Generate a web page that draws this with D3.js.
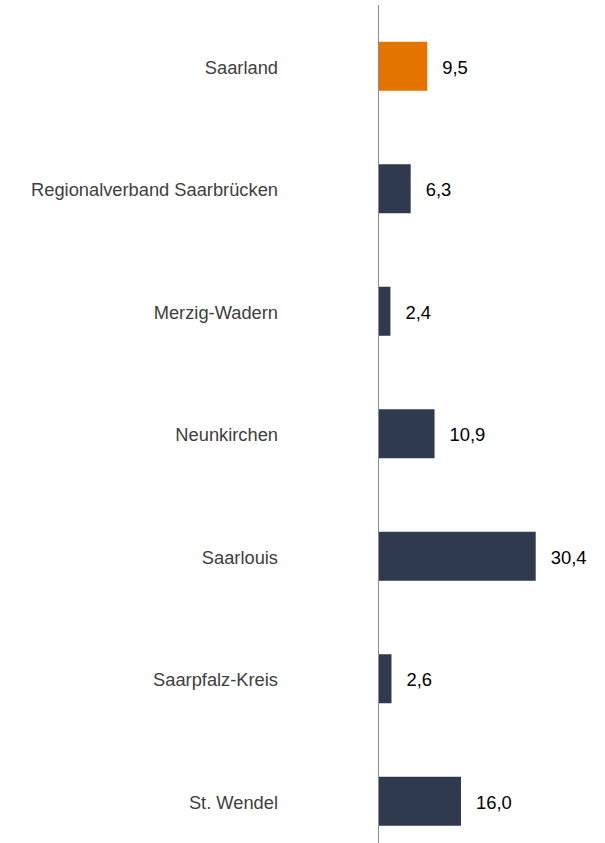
<!DOCTYPE html>
<html>
<head>
<meta charset="utf-8">
<script src="https://cdn.jsdelivr.net/npm/d3@7"></script>
<style>
  html, body { margin: 0; padding: 0; background: #fff; }
  svg { display: block; }
</style>
</head>
<body>
<div id="chart"></div>
<script>
// Daten
const categories = ["Saarland", "Regionalverband Saarbrücken", "Merzig-Wadern", "Neunkirchen", "Saarlouis", "Saarpfalz-Kreis", "St. Wendel"];
const values = [9.5, 6.3, 2.4, 10.9, 30.4, 2.6, 16.0];
const highlight = ["Saarland"];

const width = 605, height = 843;
const axisX = 378;
const font = "'Liberation Sans', Arial, sans-serif";

const svg = d3.select("#chart").append("svg")
  .attr("width", width)
  .attr("height", height);

const x = d3.scaleLinear()
  .domain([0, 30.4])
  .range([axisX, axisX + 157.7]);

const y = d3.scaleBand()
  .domain(categories)
  .range([5, 862.5])
  .paddingInner(0.6)
  .paddingOuter(0.3);

const data = categories.map((c, i) => ({ name: c, value: values[i] }));

// Balken
svg.selectAll("rect.bar")
  .data(data)
  .join("rect")
  .attr("class", "bar")
  .attr("x", x(0))
  .attr("y", d => y(d.name))
  .attr("width", d => x(d.value) - x(0))
  .attr("height", y.bandwidth())
  .attr("fill", d => highlight.includes(d.name) ? "#e37400" : "#2f3a4f");

// Werte
svg.selectAll("text.val")
  .data(data)
  .join("text")
  .attr("class", "val")
  .attr("x", d => x(d.value) + 15)
  .attr("y", d => y(d.name) + y.bandwidth() / 2)
  .attr("dy", "0.4em")
  .style("font-family", font)
  .style("font-size", "18.4px")
  .attr("fill", "#000")
  .text(d => d3.format(".1f")(d.value).replace(".", ","));

// Achse mit Kategorien
const yAxis = d3.axisLeft(y).tickSize(0).tickPadding(100);
const g = svg.append("g")
  .attr("transform", `translate(${axisX},0)`)
  .call(yAxis);
g.select(".domain").remove();
g.selectAll("text")
  .attr("dy", "0.4em")
  .style("font-family", font)
  .style("font-size", "18.3px")
  .attr("fill", "#404040");

svg.append("line")
  .attr("x1", axisX + 0.5).attr("x2", axisX + 0.5)
  .attr("y1", 5).attr("y2", height)
  .attr("stroke", "#8c8c8c")
  .attr("stroke-width", 1);
</script>
</body>
</html>
